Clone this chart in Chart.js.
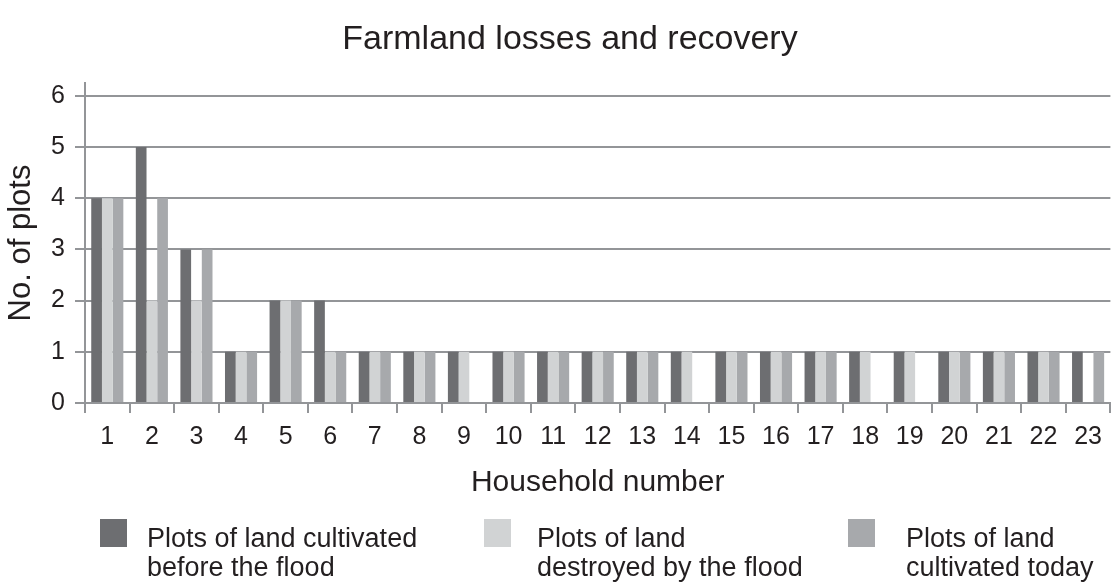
<!DOCTYPE html>
<html>
<head>
<meta charset="utf-8">
<script src="https://cdn.jsdelivr.net/npm/chart.js@4"></script>
<style>
  html, body { margin: 0; padding: 0; background: #fff; }
  #wrap { position: relative; width: 1111px; height: 584px; }
  canvas { position: absolute; left: 0; top: 0; }
  .lg-box { position: absolute; width: 27px; height: 28px; }
  .lg-txt { position: absolute; font-family: "Liberation Sans", Arial, sans-serif; font-size: 27px; line-height: 29px; color: #231f20; white-space: nowrap; }
  #title { position: absolute; left: 270px; width: 600px; top: 17px; text-align: center; font-family: "Liberation Sans", Arial, sans-serif; font-size: 34px; line-height: 40px; color: #231f20; white-space: nowrap; }
</style>
</head>
<body>
<div id="wrap">
  <canvas id="c" width="1111" height="584"></canvas>
  <div id="title"></div>
  <div id="legend"></div>
</div>
<script>
const title = "Farmland losses and recovery";
const xTitle = "Household number";
const yTitle = "No. of plots";
const households = ["1","2","3","4","5","6","7","8","9","10","11","12","13","14","15","16","17","18","19","20","21","22","23"];
const seriesNames = [
  ["Plots of land cultivated", "before the flood"],
  ["Plots of land", "destroyed by the flood"],
  ["Plots of land", "cultivated today"]
];
const beforeFlood = [4,5,3,1,2,2,1,1,1,1,1,1,1,1,1,1,1,1,1,1,1,1,1];
const destroyed   = [4,2,2,1,2,1,1,1,1,1,1,1,1,1,1,1,1,1,1,1,1,1,0];
const today       = [4,4,3,1,2,1,1,1,0,1,1,1,1,0,1,1,1,0,0,1,1,1,1];
const yTicks = [0,1,2,3,4,5,6];

const colors = ["#6d6e71", "#d1d3d4", "#a7a9ac"];
const gridColor = "#939598";
const textColor = "#231f20";
const fontFam = '"Liberation Sans", Arial, sans-serif';

const seriesData = [beforeFlood, destroyed, today];

document.getElementById("title").textContent = title;

new Chart(document.getElementById("c"), {
  type: "bar",
  data: {
    labels: households,
    datasets: seriesData.map((d, i) => ({
      label: seriesNames[i].join(" "),
      data: d,
      backgroundColor: colors[i],
      borderWidth: 0,
      categoryPercentage: 0.72,
      barPercentage: 1.0
    }))
  },
  options: {
    responsive: false,
    animation: false,
    layout: { padding: { left: 0, right: 0, top: 83, bottom: 83 } },
    plugins: {
      legend: { display: false },
      tooltip: { enabled: false },
      title: { display: false }
    },
    scales: {
      x: {
        afterFit: s => { s.height = 98; },
        grid: {
          offset: true,
          drawOnChartArea: false,
          drawTicks: true,
          tickLength: 10,
          color: gridColor,
          lineWidth: 2
        },
        border: { display: true, color: gridColor, width: 2 },
        ticks: {
          color: textColor,
          font: { family: fontFam, size: 25 },
          padding: 9,
          maxRotation: 0,
          autoSkip: false
        },
        title: {
          display: true,
          text: xTitle,
          color: textColor,
          font: { family: fontFam, size: 30, lineHeight: 1.2 },
          padding: 0
        }
      },
      y: {
        min: 0,
        max: 6.25,
        afterFit: s => { s.width = 85; },
        afterBuildTicks: s => { s.ticks = yTicks.map(v => ({ value: v })); },
        grid: {
          color: gridColor,
          lineWidth: 2,
          drawTicks: true,
          tickLength: 10
        },
        border: { display: true, color: gridColor, width: 2 },
        ticks: {
          color: textColor,
          font: { family: fontFam, size: 25 },
          padding: 10
        },
        title: {
          display: true,
          text: yTitle,
          color: textColor,
          font: { family: fontFam, size: 31, lineHeight: 1.2 },
          padding: { top: 3, bottom: 0 }
        }
      }
    }
  }
});

// HTML legend (multi-line labels)
const legendPos = [
  { box: 100, txt: 147 },
  { box: 484, txt: 537 },
  { box: 848, txt: 906 }
];
const lg = document.getElementById("legend");
seriesNames.forEach((lines, i) => {
  const b = document.createElement("div");
  b.className = "lg-box";
  b.style.left = legendPos[i].box + "px";
  b.style.top = "519px";
  b.style.background = colors[i];
  lg.appendChild(b);
  const t = document.createElement("div");
  t.className = "lg-txt";
  t.style.left = legendPos[i].txt + "px";
  t.style.top = "524px";
  t.innerHTML = lines.map(l => l.replace(/&/g, "&amp;")).join("<br>");
  lg.appendChild(t);
});
</script>
</body>
</html>
